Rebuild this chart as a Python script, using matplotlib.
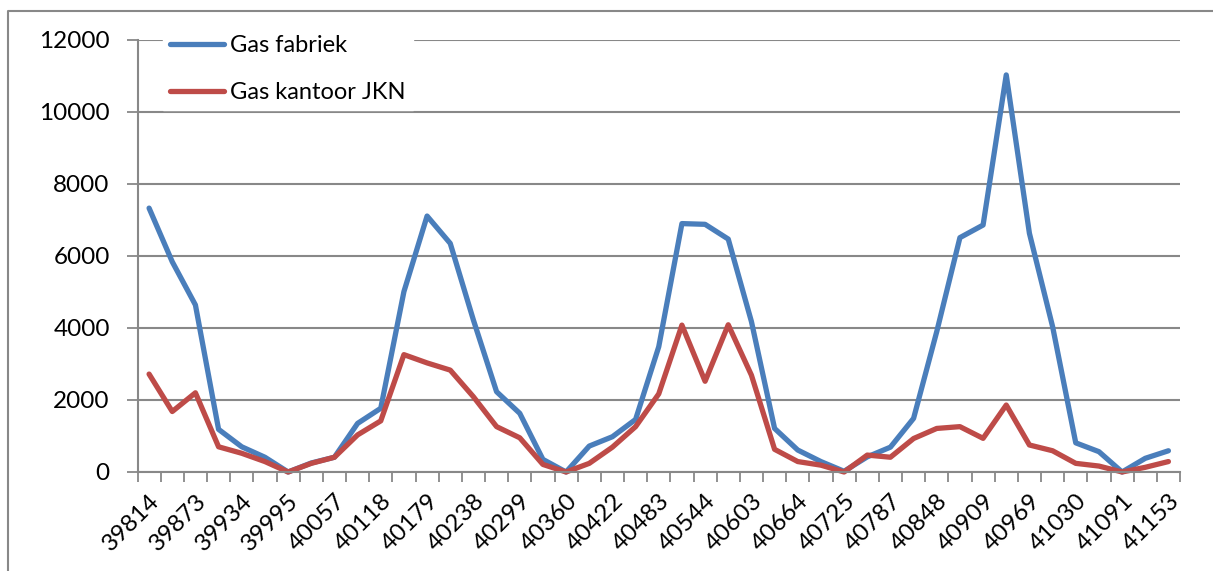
import numpy as np
import matplotlib.pyplot as plt
from matplotlib.lines import Line2D

# monthly gas use, Jan 2009 .. Sep 2012 (x = Excel date serials)
fabriek = [7330, 5840, 4640, 1185, 700, 410, 0, 250, 410, 1350, 1770, 5010,
           7110, 6350, 4220, 2230, 1630, 350, 0, 720, 980, 1460, 3480, 6900,
           6880, 6470, 4180, 1210, 610, 290, 20, 420, 690, 1490, 3900, 6510,
           6860, 11030, 6630, 4040, 810, 565, 0, 380, 590]
kantoor = [2720, 1680, 2200, 700, 520, 290, 0, 240, 410, 1030, 1420, 3260,
           3030, 2830, 2090, 1260, 950, 210, 0, 240, 690, 1260, 2170, 4080,
           2520, 4090, 2690, 630, 290, 190, 0, 470, 410, 930, 1210, 1260,
           935, 1860, 750, 590, 240, 165, 0, 130, 290]
tick_labels = ['39814', '39873', '39934', '39995', '40057', '40118', '40179',
               '40238', '40299', '40360', '40422', '40483', '40544', '40603',
               '40664', '40725', '40787', '40848', '40909', '40969', '41030',
               '41091', '41153']

plt.rcParams['font.family'] = ['Lato', 'DejaVu Sans']
grey = '#888888'
blue = '#4A7EBB'
red = '#BE4B48'

fig = plt.figure(figsize=(12.13, 5.71), dpi=100)
ax = fig.add_axes([137.5 / 1213, 1 - 472 / 571, (1180 - 137.5) / 1213, (472 - 40) / 571])

x = np.arange(len(fabriek))
for vals, col, name in [(fabriek, blue, 'Gas fabriek'), (kantoor, red, 'Gas kantoor JKN')]:
    ax.plot(x, vals, color=col, lw=3.8, label=name, clip_on=False,
            solid_joinstyle='round', solid_capstyle='round')

ax.set_xlim(-0.5, len(x) - 0.5)
ax.set_ylim(0, 12000)
ax.set_yticks(np.arange(0, 12001, 2000))
ax.yaxis.grid(True, color=grey, lw=1.5)
ax.set_axisbelow(True)

ax.set_xticks(x[::2])
ax.set_xticklabels(tick_labels, rotation=45, ha='right', va='top',
                   rotation_mode='anchor')
ax.set_xticks(np.arange(-0.5, len(x), 1), minor=True)
ax.tick_params(axis='x', which='major', length=0, pad=13, labelsize=17.5)
ax.tick_params(axis='x', which='minor', length=7, width=1.3, color=grey, direction='out')
ax.tick_params(axis='y', length=8, width=1.3, color=grey, pad=12, labelsize=17.5)

for s in ['top', 'right']:
    ax.spines[s].set_visible(False)
for s in ['left', 'bottom']:
    ax.spines[s].set_color(grey)
    ax.spines[s].set_linewidth(1.5)

handles = [Line2D([], [], color=blue, lw=3.8, solid_capstyle='round'),
           Line2D([], [], color=red, lw=3.8, solid_capstyle='round')]
leg = ax.legend(handles, ['Gas fabriek', 'Gas kantoor JKN'], loc='upper left',
                bbox_to_anchor=(0.013, 1.055), frameon=True, fancybox=False,
                edgecolor='white', facecolor='white', framealpha=1,
                fontsize=17, handlelength=2.3, handletextpad=0.25,
                labelspacing=1.1, borderpad=0.3)

# chart area border
fig.add_artist(Line2D([8 / 1213, 8 / 1213, 1], [0, 1 - 11 / 571, 1 - 11 / 571],
                      color=grey, lw=1.5, transform=fig.transFigure))

fig.savefig('out.png', dpi=100)
